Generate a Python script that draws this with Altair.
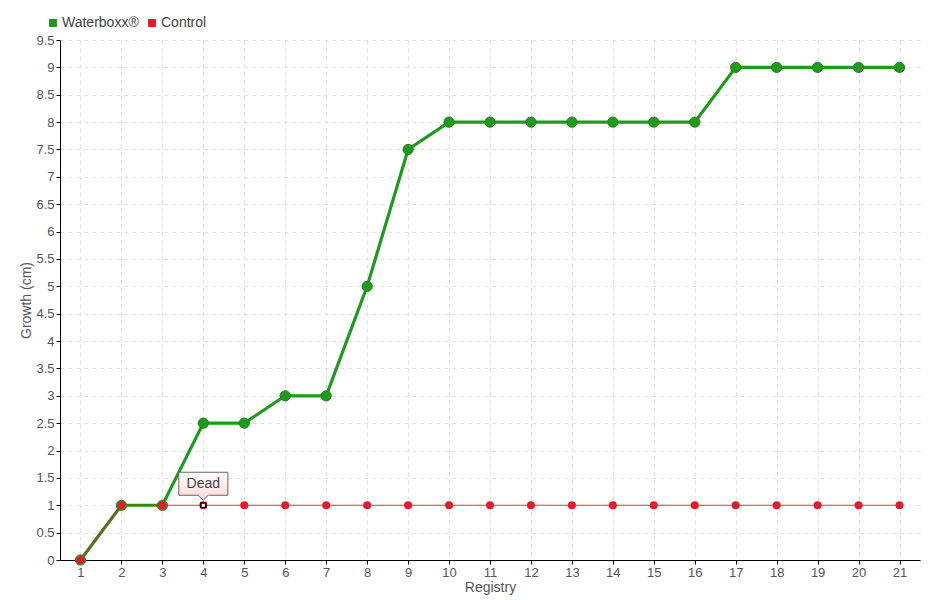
import altair as alt
import pandas as pd

registry = list(range(1, 22))
waterboxx = [0, 1, 1, 2.5, 2.5, 3, 3, 5, 7.5, 8, 8, 8, 8, 8, 8, 8, 9, 9, 9, 9, 9]
control = [0, 1, 1, 1, 1, 1, 1, 1, 1, 1, 1, 1, 1, 1, 1, 1, 1, 1, 1, 1, 1]
series_names = ["Waterboxx®", "Control"]
series_colors = ["#1c9c18", "#e8192c"]
dead_registry = [4]
dead_value = [1]
dead_label = ["Dead"]
y_ticks = [i * 0.5 for i in range(20)]

FONT = "Liberation Sans"

df = pd.DataFrame({
    "Registry": registry * 2,
    "Growth": waterboxx + control,
    "Series": [series_names[0]] * 21 + [series_names[1]] * 21,
})
wb = df[df.Series == series_names[0]]
ct = df[df.Series == series_names[1]]
dead = pd.DataFrame({"Registry": dead_registry, "Growth": dead_value, "Label": dead_label})

x = alt.X("Registry:O", scale=alt.Scale(type="point", padding=0.5),
          axis=alt.Axis(title="Registry", labelAngle=0, grid=True, gridDash=[4, 4],
                        gridColor="#e0e0e0", tickSize=4, labelPadding=2, titlePadding=1))
y = alt.Y("Growth:Q", scale=alt.Scale(domain=[0, 9.5], nice=False),
          axis=alt.Axis(title="Growth (cm)", values=y_ticks, labelExpr="'' + datum.value",
                        grid=True, gridDash=[4, 4], gridColor="#e0e0e0", tickSize=4,
                        labelPadding=2, titlePadding=2))
cscale = alt.Scale(domain=series_names, range=series_colors)
color = alt.Color("Series:N", scale=cscale,
                  legend=alt.Legend(title=None, orient="none", legendX=-14, legendY=-24,
                                    direction="horizontal", symbolType="square",
                                    symbolSize=40, labelFontSize=14, labelColor="#444",
                                    labelFont=FONT, columnPadding=6, symbolOffset=0,
                                    labelOffset=2))
nolegend = alt.Color("Series:N", scale=cscale, legend=None)

green_line = alt.Chart(wb).mark_line(strokeWidth=3.2).encode(x=x, y=y, color=color)
red_line = alt.Chart(ct).mark_line(strokeWidth=1.2, opacity=0.85).encode(x=x, y=y, color=nolegend)
green_pts = alt.Chart(wb).mark_circle(size=105, opacity=1, stroke="#2d7a26", strokeWidth=1).encode(
    x=x, y=y, color=nolegend)
red_pts = alt.Chart(ct).mark_circle(size=64, opacity=1).encode(x=x, y=y, color=nolegend)

dead_marker = alt.Chart(dead).mark_point(shape="square", size=22, filled=True, fill="white",
                                         stroke="black", strokeWidth=1.5, opacity=1).encode(
    x=x, y=y)
box_path = "M-1,-1.347 L1,-1.347 L1,-0.408 L0.204,-0.408 L0,-0.204 L-0.204,-0.408 L-1,-0.408 Z"
dead_box = alt.Chart(dead).mark_point(
    shape=box_path, size=2401, filled=True, opacity=1,
    fill=alt.Gradient(gradient="linear", x1=0, y1=0, x2=0, y2=1,
                      stops=[alt.GradientStop(color="#ffffff", offset=0),
                             alt.GradientStop(color="#fbd6d6", offset=1)]),
    stroke="#666666", strokeWidth=1).encode(x=x, y=y)
dead_text = alt.Chart(dead).mark_text(dy=-21, fontSize=14, color="#444", font=FONT).encode(
    x=x, y=y, text="Label:N")

chart = alt.layer(green_line, red_line, green_pts, red_pts, dead_marker, dead_box, dead_text).properties(
    width=860, height=520,
    autosize=alt.AutoSizeParams(type="none"),
    padding={"left": 52, "top": 32, "right": 12, "bottom": 40},
).configure_axis(
    domainColor="#000", tickColor="#000", labelColor="#555", titleColor="#555",
    labelFont=FONT, titleFont=FONT, labelFontSize=13, titleFontSize=14, titleFontWeight="normal",
).configure_view(stroke=None)

chart.save("out.html", embed_options={"renderer": "svg", "actions": False})
